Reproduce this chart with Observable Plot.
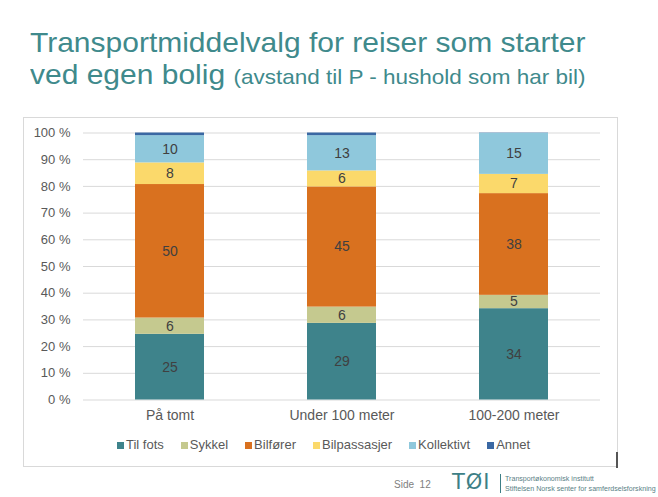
<!DOCTYPE html>
<html><head><meta charset="utf-8">
<script src="https://cdn.jsdelivr.net/npm/d3@7"></script>
<script src="https://cdn.jsdelivr.net/npm/@observablehq/plot@0.6"></script>
<style>
body{margin:0;width:658px;height:497px;position:relative;background:#fff;font-family:"Liberation Sans",Arial,sans-serif;overflow:hidden}
#title{position:absolute;left:30px;top:27px;color:#3f8a8c;font-size:28px;line-height:32px;white-space:nowrap;transform:scaleX(1.071);transform-origin:0 0}
#title .small{font-size:21px}
#frame{position:absolute;left:23px;top:117px;width:593px;height:348px;border:1px solid #d9d9d9}
#mark{position:absolute;left:616px;top:452px;width:2px;height:16px;background:#555}
#chart{position:absolute;left:0;top:117px}
#legend{position:absolute;left:117px;top:437px;display:flex;gap:17px;font-size:13px;line-height:16px;color:#595959;white-space:nowrap}
#legend .it{display:flex;align-items:center}
#legend .sw{width:7px;height:7px;margin-right:2px;display:inline-block}
#side{position:absolute;left:394px;top:479px;font-size:10px;color:#808080}
#logo{position:absolute;left:452px;top:471px;font-size:21px;line-height:22px;color:#3d7f86;font-family:"DejaVu Sans",sans-serif;letter-spacing:1px}
#sep{position:absolute;left:500px;top:474px;width:1px;height:19px;background:#3d7f86}
#org{position:absolute;left:505px;top:474px;font-size:7.1px;line-height:10px;color:#5a7f86;white-space:nowrap}
</style></head><body>
<div id="frame"></div>
<div id="mark"></div>
<div id="title">Transportmiddelvalg for reiser som starter<br>ved egen bolig <span class="small">(avstand til P - hushold som har bil)</span></div>
<div id="chart"></div>
<div id="legend"></div>
<div id="side">Side&nbsp;&nbsp;12</div>
<div id="logo">TØI</div>
<div id="sep"></div>
<div id="org">Transportøkonomisk institutt<br>Stiftelsen Norsk senter for samferdselsforskning</div>
<script>
const categories = ["På tomt", "Under 100 meter", "100-200 meter"];
const series = ["Til fots", "Sykkel", "Bilfører", "Bilpassasjer", "Kollektivt", "Annet"];
const colors = ["#3e838b", "#c5c98f", "#d9711f", "#fbd96b", "#8fc8dc", "#3a68a3"];
const tilFots = [24.6, 28.7, 34.2];
const sykkel = [6.1, 6.1, 5.0];
const bilforer = [50.0, 45.0, 38.1];
const bilpassasjer = [8.1, 6.0, 7.2];
const kollektivt = [10.2, 13.2, 15.4];
const annet = [1.0, 1.0, 0.1];
const yTicks = [0, 10, 20, 30, 40, 50, 60, 70, 80, 90, 100];

const seriesValues = [tilFots, sykkel, bilforer, bilpassasjer, kollektivt, annet];
const data = [];
seriesValues.forEach((vals, si) => {
  categories.forEach((c, ci) => data.push({category: c, series: series[si], value: vals[ci]}));
});

const chart = Plot.plot({
  width: 620,
  height: 350,
  marginTop: 15.5,
  marginBottom: 67.5,
  marginLeft: 83,
  marginRight: 20,
  style: {fontFamily: "'Liberation Sans', Arial, sans-serif", background: "transparent"},
  x: {domain: categories, paddingInner: 0.6, paddingOuter: 0.3, label: null, tickSize: 0, tickPadding: 10},
  y: {domain: [0, 100], label: null},
  color: {domain: series, range: colors},
  marks: [
    Plot.ruleY(yTicks, {stroke: "#d9d9d9", strokeWidth: 1}),
    Plot.barY(data, Plot.stackY({x: "category", y: "value", fill: "series", order: series})),
    Plot.text(data.filter(d => d.series !== "Annet"), Plot.stackY({
      x: "category", y: "value", z: "series", order: series,
      text: d => String(Math.round(d.value)),
      fill: "#404040", fontSize: 14
    })),
    Plot.axisY(yTicks, {tickSize: 0, tickPadding: 13, tickFormat: d => d + " %", fontSize: 13, fill: "#595959", label: null}),
    Plot.axisX({tickSize: 0, tickPadding: 10, fontSize: 14, fill: "#595959", label: null})
  ]
});
document.getElementById("chart").appendChild(chart);

const legend = document.getElementById("legend");
series.forEach((s, i) => {
  const it = document.createElement("div");
  it.className = "it";
  const sw = document.createElement("span");
  sw.className = "sw";
  sw.style.background = colors[i];
  it.appendChild(sw);
  it.appendChild(document.createTextNode(s));
  legend.appendChild(it);
});
</script>
</body></html>
